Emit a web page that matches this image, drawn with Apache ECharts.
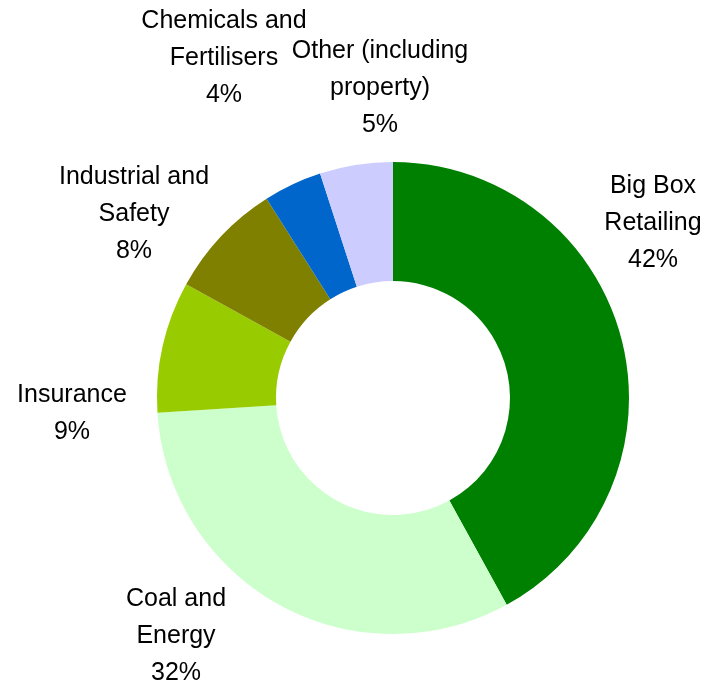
<!DOCTYPE html>
<html>
<head>
<meta charset="utf-8">
<script src="https://cdn.jsdelivr.net/npm/echarts@6/dist/echarts.min.js"></script>
<style>
  html, body { margin: 0; padding: 0; background: #fff; }
  #chart { width: 706px; height: 687px; }
</style>
</head>
<body>
<div id="chart"></div>
<script>
const categories = ['Big Box\nRetailing', 'Coal and\nEnergy', 'Insurance', 'Industrial and\nSafety', 'Chemicals and\nFertilisers', 'Other (including\nproperty)'];
const shares = [42, 32, 9, 8, 4, 5];
const colors = ['#008000', '#ccffcc', '#99cc00', '#808000', '#0066cc', '#ccccff'];
// where each label block is centred (Excel "best fit" placement)
const labelSpots = [[653, 223], [176, 636], [72, 414], [134, 214], [224, 58], [380, 88]];

const chart = echarts.init(document.getElementById('chart'));
const option = {
  animation: false,
  series: [
    {
      type: 'pie',
      center: [393, 398],
      radius: [117, 236],
      startAngle: 90,
      clockwise: true,
      data: categories.map((name, i) => ({ name: name, value: shares[i], itemStyle: { color: colors[i] } })),
      label: {
        show: true,
        position: 'outside',
        formatter: (p) => p.name + '\n' + p.value + '%',
        fontFamily: 'Liberation Sans, Arial, sans-serif',
        fontSize: 25,
        lineHeight: 37,
        color: '#000',
        overflow: 'none'
      },
      labelLine: { show: false },
      labelLayout: (params) => ({
        x: labelSpots[params.dataIndex][0],
        y: labelSpots[params.dataIndex][1],
        align: 'center',
        verticalAlign: 'middle',
        hideOverlap: false
      })
    }
  ]
};
chart.setOption(option);
</script>
</body>
</html>
